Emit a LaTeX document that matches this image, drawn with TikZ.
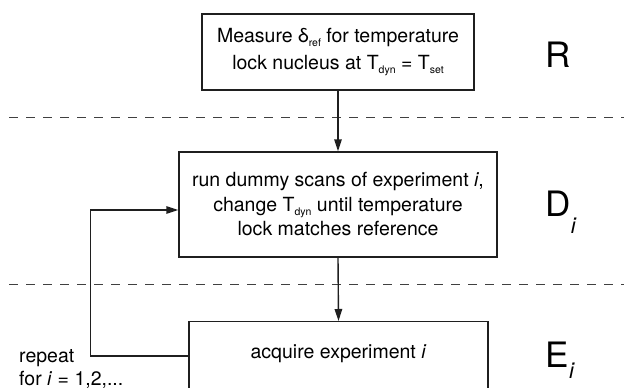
\documentclass[tikz,border=0pt]{standalone}
\usepackage{fontspec}
\setmainfont{TeX Gyre Heros}
\usetikzlibrary{arrows.meta}
\newcommand\sbs[1]{\raisebox{-4.5pt}{\fontsize{10.5}{10}\selectfont #1}}
\newcommand\lbl[1]{{\fontsize{35}{35}\selectfont #1}}
\newcommand\lsub[1]{\raisebox{#1}{\fontsize{22}{22}\selectfont\itshape i}}
\tikzset{
  boxstyle/.style={draw=black!88, line width=1.4pt, align=center, inner sep=0pt},
  sep/.style={draw=black!75, line width=1pt, dash pattern=on 9pt off 8pt},
  conn/.style={draw=black!88, line width=1.4pt, -{Triangle[length=12pt,width=7.5pt]}},
  txt/.style={inner sep=0pt, font=\fontsize{19.5}{24}\selectfont},
}
\begin{document}
\begin{tikzpicture}[x=1pt,y=-1pt]
\useasboundingbox (0,0) rectangle (624,388);
\clip (0,0) rectangle (624,388);
% separators
\coordinate (s1a) at (9,117.7);
\coordinate (s1b) at (630,117.7);
\coordinate (s2a) at (9,284.3);
\coordinate (s2b) at (630,284.3);
\draw[sep] (s1a) -- (s1b);
\draw[sep] (s2a) -- (s2b);
% boxes
\node[boxstyle, minimum width=272pt, minimum height=76pt, font=\fontsize{19.5}{28}\selectfont] (b1) at (338,52)
  {Measure δ\sbs{ref} for temperature\\[-1pt]lock nucleus at T\sbs{dyn} = T\sbs{set}};
\node[boxstyle, minimum width=318pt, minimum height=105pt, font=\fontsize{19.5}{24.5}\selectfont] (b2) at (338,204.5)
  {run dummy scans of experiment \textit{i},\\change T\sbs{dyn} until temperature\\lock matches reference};
\node[boxstyle, minimum width=299pt, minimum height=120pt, anchor=north] (b3) at (338.5,321) {};
\node[txt, anchor=base] (t3) at (338.5,358.3) {acquire experiment \textit{i}};
% stage labels
\node[inner sep=0pt, anchor=base west] (lR) at (545.5,67) {\lbl{R}};
\node[inner sep=0pt, anchor=base west] (lD) at (545.5,216) {\lbl{D}\lsub{-17pt}};
\node[inner sep=0pt, anchor=base west] (lE) at (545.5,367) {\lbl{E}\lsub{-11.5pt}};
% repeat text
\node[txt, anchor=base west] (rp1) at (19,362) {repeat};
\node[txt, anchor=base west] (rp2) at (19,385) {for \textit{i} = 1,2,...};
% connectors
\draw[conn] (b1.south) -- (b2.north);
\draw[conn] (b2.south) -- (b3.north);
\coordinate (fb) at (0,356);
\coordinate (lp1) at (90.7,356);
\coordinate (lp2) at (90.7,210);
\draw[conn] (b3.west |- fb) -- (lp1) -- (lp2) -- (b2.west |- lp2);
\end{tikzpicture}
\end{document}
